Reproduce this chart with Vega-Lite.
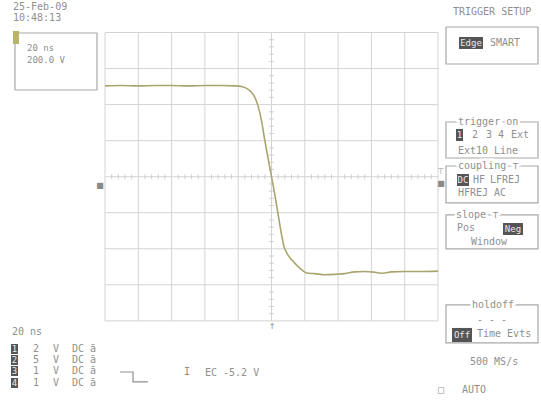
{
  "$schema": "https://vega.github.io/schema/vega-lite/v6.json",
  "width": 541,
  "height": 402,
  "padding": 0,
  "autosize": {"type": "fit", "contains": "padding"},
  "background": "#ffffff",
  "config": {"view": {"stroke": null}},
  "datasets": {
    "gridX": [{"x": -5, "y": -4, "y2": 4}, {"x": -4, "y": -4, "y2": 4}, {"x": -3, "y": -4, "y2": 4}, {"x": -2, "y": -4, "y2": 4}, {"x": -1, "y": -4, "y2": 4}, {"x": 0, "y": -4, "y2": 4}, {"x": 1, "y": -4, "y2": 4}, {"x": 2, "y": -4, "y2": 4}, {"x": 3, "y": -4, "y2": 4}, {"x": 4, "y": -4, "y2": 4}, {"x": 5, "y": -4, "y2": 4}],
    "gridY": [{"y": -4, "x": -5, "x2": 5}, {"y": -3, "x": -5, "x2": 5}, {"y": -2, "x": -5, "x2": 5}, {"y": -1, "x": -5, "x2": 5}, {"y": 0, "x": -5, "x2": 5}, {"y": 1, "x": -5, "x2": 5}, {"y": 2, "x": -5, "x2": 5}, {"y": 3, "x": -5, "x2": 5}, {"y": 4, "x": -5, "x2": 5}],
    "minorX": [{"x": -4.8, "y": 0}, {"x": -4.6, "y": 0}, {"x": -4.4, "y": 0}, {"x": -4.2, "y": 0}, {"x": -3.8, "y": 0}, {"x": -3.6, "y": 0}, {"x": -3.4, "y": 0}, {"x": -3.2, "y": 0}, {"x": -2.8, "y": 0}, {"x": -2.6, "y": 0}, {"x": -2.4, "y": 0}, {"x": -2.2, "y": 0}, {"x": -1.8, "y": 0}, {"x": -1.6, "y": 0}, {"x": -1.4, "y": 0}, {"x": -1.2, "y": 0}, {"x": -0.8, "y": 0}, {"x": -0.6, "y": 0}, {"x": -0.4, "y": 0}, {"x": -0.2, "y": 0}, {"x": 0.2, "y": 0}, {"x": 0.4, "y": 0}, {"x": 0.6, "y": 0}, {"x": 0.8, "y": 0}, {"x": 1.2, "y": 0}, {"x": 1.4, "y": 0}, {"x": 1.6, "y": 0}, {"x": 1.8, "y": 0}, {"x": 2.2, "y": 0}, {"x": 2.4, "y": 0}, {"x": 2.6, "y": 0}, {"x": 2.8, "y": 0}, {"x": 3.2, "y": 0}, {"x": 3.4, "y": 0}, {"x": 3.6, "y": 0}, {"x": 3.8, "y": 0}, {"x": 4.2, "y": 0}, {"x": 4.4, "y": 0}, {"x": 4.6, "y": 0}, {"x": 4.8, "y": 0}],
    "minorY": [{"x": 0, "y": -3.8}, {"x": 0, "y": -3.6}, {"x": 0, "y": -3.4}, {"x": 0, "y": -3.2}, {"x": 0, "y": -2.8}, {"x": 0, "y": -2.6}, {"x": 0, "y": -2.4}, {"x": 0, "y": -2.2}, {"x": 0, "y": -1.8}, {"x": 0, "y": -1.6}, {"x": 0, "y": -1.4}, {"x": 0, "y": -1.2}, {"x": 0, "y": -0.8}, {"x": 0, "y": -0.6}, {"x": 0, "y": -0.4}, {"x": 0, "y": -0.2}, {"x": 0, "y": 0.2}, {"x": 0, "y": 0.4}, {"x": 0, "y": 0.6}, {"x": 0, "y": 0.8}, {"x": 0, "y": 1.2}, {"x": 0, "y": 1.4}, {"x": 0, "y": 1.6}, {"x": 0, "y": 1.8}, {"x": 0, "y": 2.2}, {"x": 0, "y": 2.4}, {"x": 0, "y": 2.6}, {"x": 0, "y": 2.8}, {"x": 0, "y": 3.2}, {"x": 0, "y": 3.4}, {"x": 0, "y": 3.6}, {"x": 0, "y": 3.8}],
    "trace": [
      {"x": -5, "y": 2.52}, {"x": -4.5, "y": 2.53}, {"x": -4, "y": 2.52}, {"x": -3.5, "y": 2.53}, {"x": -3, "y": 2.53},
      {"x": -2.5, "y": 2.52}, {"x": -2, "y": 2.53}, {"x": -1.5, "y": 2.53}, {"x": -1.1, "y": 2.52}, {"x": -0.9, "y": 2.5},
      {"x": -0.75, "y": 2.45}, {"x": -0.62, "y": 2.36}, {"x": -0.5, "y": 2.2}, {"x": -0.4, "y": 1.95}, {"x": -0.3, "y": 1.55},
      {"x": -0.2, "y": 1.0}, {"x": -0.1, "y": 0.5}, {"x": 0, "y": 0}, {"x": 0.1, "y": -0.5}, {"x": 0.2, "y": -1.05},
      {"x": 0.3, "y": -1.6}, {"x": 0.38, "y": -1.95}, {"x": 0.45, "y": -2.1}, {"x": 0.6, "y": -2.3}, {"x": 0.75, "y": -2.45},
      {"x": 0.9, "y": -2.58}, {"x": 1.05, "y": -2.67}, {"x": 1.3, "y": -2.69}, {"x": 1.6, "y": -2.72}, {"x": 1.9, "y": -2.71},
      {"x": 2.2, "y": -2.69}, {"x": 2.5, "y": -2.64}, {"x": 2.8, "y": -2.63}, {"x": 3.1, "y": -2.65}, {"x": 3.35, "y": -2.68},
      {"x": 3.6, "y": -2.64}, {"x": 4.0, "y": -2.63}, {"x": 4.5, "y": -2.63}, {"x": 5, "y": -2.62}
    ],
    "boxes": [
      {"x": -7.703, "x2": -5.24, "y": 3.986, "y2": 2.405},
      {"x": 5.24, "x2": 8.003, "y": 4.153, "y2": 3.126},
      {"x": 5.24, "x2": 8.003, "y": 1.517, "y2": 0.519},
      {"x": 5.24, "x2": 8.003, "y": 0.297, "y2": -0.729},
      {"x": 5.24, "x2": 8.003, "y": -1.062, "y2": -2.005},
      {"x": 5.24, "x2": 8.003, "y": -3.558, "y2": -4.612}
    ],
    "darkBlocks": [
      {"x": 5.631, "x2": 6.351, "y": 3.876, "y2": 3.543},
      {"x": 5.541, "x2": 5.751, "y": 1.323, "y2": 0.99},
      {"x": 5.571, "x2": 5.931, "y": 0.075, "y2": -0.258},
      {"x": 6.952, "x2": 7.553, "y": -1.284, "y2": -1.617},
      {"x": 5.42, "x2": 6.021, "y": -4.197, "y2": -4.586},
      {"x": -7.823, "x2": -7.613, "y": -4.641, "y2": -4.918},
      {"x": -7.823, "x2": -7.613, "y": -4.946, "y2": -5.224},
      {"x": -7.823, "x2": -7.613, "y": -5.252, "y2": -5.529},
      {"x": -7.823, "x2": -7.613, "y": -5.585, "y2": -5.862}
    ],
    "darkLabels": [
      {"x": 5.991, "y": 3.709, "t": "Edge"},
      {"x": 5.646, "y": 1.157, "t": "1"},
      {"x": 5.751, "y": -0.092, "t": "DC"},
      {"x": 7.252, "y": -1.451, "t": "Neg"},
      {"x": 5.721, "y": -4.391, "t": "Off"},
      {"x": -7.718, "y": -4.78, "t": "1"},
      {"x": -7.718, "y": -5.085, "t": "2"},
      {"x": -7.718, "y": -5.39, "t": "3"},
      {"x": -7.718, "y": -5.723, "t": "4"}
    ],
    "titles": [
      {"x": 5.601, "y": 1.517, "t": "trigger on"},
      {"x": 5.601, "y": 0.297, "t": "coupling ⊤"},
      {"x": 5.541, "y": -1.062, "t": "slope ⊤"},
      {"x": 6.021, "y": -3.558, "t": "holdoff"}
    ],
    "labels": [
      {"x": -7.763, "y": 4.707, "t": "25-Feb-09"},
      {"x": -7.763, "y": 4.402, "t": "10:48:13"},
      {"x": 5.45, "y": 4.569, "t": "TRIGGER SETUP"},
      {"x": 6.562, "y": 3.709, "t": "SMART"},
      {"x": 6.021, "y": 1.157, "t": "2"},
      {"x": 6.441, "y": 1.157, "t": "3"},
      {"x": 6.802, "y": 1.157, "t": "4"},
      {"x": 7.192, "y": 1.157, "t": "Ext"},
      {"x": 5.601, "y": 0.713, "t": "Ext10"},
      {"x": 6.682, "y": 0.713, "t": "Line"},
      {"x": 6.051, "y": -0.092, "t": "HF"},
      {"x": 6.562, "y": -0.092, "t": "LFREJ"},
      {"x": 5.601, "y": -0.452, "t": "HFREJ"},
      {"x": 6.682, "y": -0.452, "t": "AC"},
      {"x": 5.571, "y": -1.423, "t": "Pos"},
      {"x": 5.991, "y": -1.811, "t": "Window"},
      {"x": 6.171, "y": -3.974, "t": "- - -"},
      {"x": 6.171, "y": -4.363, "t": "Time Evts"},
      {"x": 5.961, "y": -5.139, "t": "500 MS/s"},
      {"x": 5.0, "y": -5.917, "t": "□"},
      {"x": 5.721, "y": -5.917, "t": "AUTO"},
      {"x": -7.793, "y": -4.309, "t": "20 ns"},
      {"x": -7.162, "y": -4.78, "t": "2"},
      {"x": -7.162, "y": -5.085, "t": "5"},
      {"x": -7.162, "y": -5.39, "t": "1"},
      {"x": -7.162, "y": -5.723, "t": "1"},
      {"x": -6.562, "y": -4.78, "t": "V"},
      {"x": -6.562, "y": -5.085, "t": "V"},
      {"x": -6.562, "y": -5.39, "t": "V"},
      {"x": -6.562, "y": -5.723, "t": "V"},
      {"x": -5.991, "y": -4.78, "t": "DC"},
      {"x": -5.991, "y": -5.085, "t": "DC"},
      {"x": -5.991, "y": -5.39, "t": "DC"},
      {"x": -5.991, "y": -5.723, "t": "DC"},
      {"x": -5.45, "y": -4.78, "t": "ā"},
      {"x": -5.45, "y": -5.085, "t": "ā"},
      {"x": -5.45, "y": -5.39, "t": "ā"},
      {"x": -5.45, "y": -5.723, "t": "ā"},
      {"x": -2.628, "y": -5.418, "t": "I"},
      {"x": -1.997, "y": -5.446, "t": "EC -5.2 V"}
    ],
    "boxLabels": [
      {"x": -7.342, "y": 3.565, "t": "20 ns"},
      {"x": -7.342, "y": 3.237, "t": "200.0 V"}
    ],
    "markers": [
      {"x": -5.15, "y": -0.258, "t": "■"},
      {"x": 5.09, "y": -0.202, "t": "■"},
      {"x": 5.09, "y": 0.13, "t": "⊤"},
      {"x": 0.015, "y": -4.17, "t": "↑"}
    ],
    "step": [
      {"i": 1, "x": -4.55, "y": -5.418},
      {"i": 2, "x": -4.159, "y": -5.418},
      {"i": 3, "x": -4.159, "y": -5.695},
      {"i": 4, "x": -3.709, "y": -5.695}
    ],
    "chMarker": [
      {"x": -7.763, "x2": -7.583, "y": 4.043, "y2": 3.681}
    ]
  },
  "encoding": {
    "x": {"field": "x", "type": "quantitative", "scale": {"domain": [-8.153, 8.093], "nice": false, "zero": false}, "axis": null},
    "y": {"field": "y", "type": "quantitative", "scale": {"domain": [-6.251, 4.902], "nice": false, "zero": false}, "axis": null}
  },
  "layer": [
    {
      "data": {"name": "gridX"},
      "mark": {"type": "rule", "color": "#d4d4d4", "strokeWidth": 1},
      "encoding": {"y2": {"field": "y2"}}
    },
    {
      "data": {"name": "gridY"},
      "mark": {"type": "rule", "color": "#d4d4d4", "strokeWidth": 1},
      "encoding": {"x2": {"field": "x2"}}
    },
    {
      "data": {"name": "minorX"},
      "mark": {"type": "tick", "color": "#bdbdbd", "orient": "vertical", "size": 5, "thickness": 1},
      "encoding": {}
    },
    {
      "data": {"name": "minorY"},
      "mark": {"type": "tick", "color": "#bdbdbd", "orient": "horizontal", "size": 5, "thickness": 1},
      "encoding": {}
    },
    {
      "data": {"name": "trace"},
      "mark": {"type": "line", "color": "#aaa46e", "strokeWidth": 1.6, "interpolate": "monotone"},
      "encoding": {}
    },
    {
      "data": {"name": "boxes"},
      "mark": {"type": "rect", "fill": "transparent", "stroke": "#a8a8a8", "strokeWidth": 1.2},
      "encoding": {"x2": {"field": "x2"}, "y2": {"field": "y2"}}
    },
    {
      "data": {"name": "chMarker"},
      "mark": {"type": "rect", "fill": "#b8b46a"},
      "encoding": {"x2": {"field": "x2"}, "y2": {"field": "y2"}}
    },
    {
      "data": {"name": "darkBlocks"},
      "mark": {"type": "rect", "fill": "#555555"},
      "encoding": {"x2": {"field": "x2"}, "y2": {"field": "y2"}}
    },
    {
      "data": {"name": "darkLabels"},
      "mark": {"type": "text", "align": "center", "baseline": "middle", "font": "DejaVu Sans Mono", "fontSize": 9, "fill": "#e8e8e8"},
      "encoding": {"text": {"field": "t"}}
    },
    {
      "data": {"name": "titles"},
      "mark": {"type": "text", "align": "left", "baseline": "middle", "font": "DejaVu Sans Mono", "fontSize": 10, "fill": "#ffffff", "stroke": "#ffffff", "strokeWidth": 5},
      "encoding": {"text": {"field": "t"}}
    },
    {
      "data": {"name": "titles"},
      "mark": {"type": "text", "align": "left", "baseline": "middle", "font": "DejaVu Sans Mono", "fontSize": 10, "fill": "#8f8f8f"},
      "encoding": {"text": {"field": "t"}}
    },
    {
      "data": {"name": "labels"},
      "mark": {"type": "text", "align": "left", "baseline": "middle", "font": "DejaVu Sans Mono", "fontSize": 10, "fill": "#8f8f8f"},
      "encoding": {"text": {"field": "t"}}
    },
    {
      "data": {"name": "boxLabels"},
      "mark": {"type": "text", "align": "left", "baseline": "middle", "font": "DejaVu Sans Mono", "fontSize": 9, "fill": "#8f8f8f"},
      "encoding": {"text": {"field": "t"}}
    },
    {
      "data": {"name": "markers"},
      "mark": {"type": "text", "align": "center", "baseline": "middle", "font": "DejaVu Sans", "fontSize": 8, "fill": "#8a8a8a"},
      "encoding": {"text": {"field": "t"}}
    },
    {
      "data": {"name": "step"},
      "mark": {"type": "line", "color": "#8f8f8f", "strokeWidth": 1.2},
      "encoding": {"order": {"field": "i", "type": "quantitative"}}
    }
  ]
}
